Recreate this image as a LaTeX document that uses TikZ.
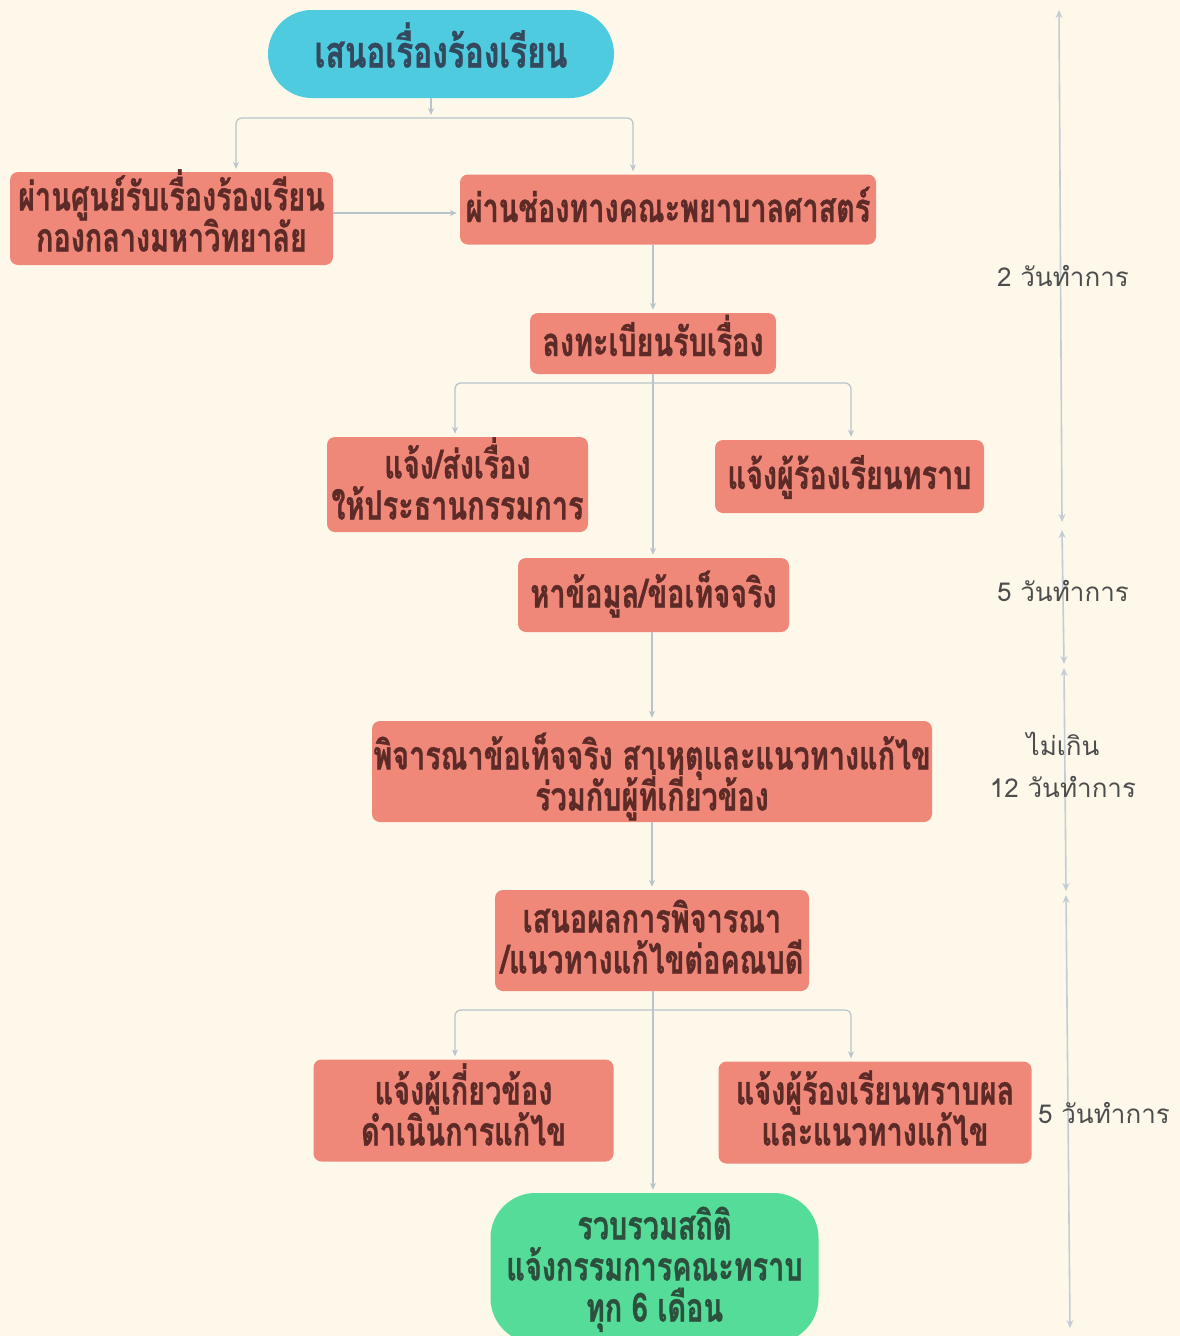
\documentclass[tikz,border=0pt]{standalone}
\usepackage{fontspec}
\usetikzlibrary{arrows.meta}
\newfontfamily\thb[Script=Thai,FakeStretch=0.72,BoldFeatures={FakeBold=0.8}]{Loma}
\newfontfamily\thr[Script=Thai]{Loma}
\newcommand\boxfont{\thb\bfseries\fontsize{40}{41}\selectfont}
\newcommand\startboxfont{\thb\bfseries\fontsize{44}{41}\selectfont}
\newcommand\lastboxfont{\thb\bfseries\fontsize{40}{41}\selectfont}
\newcommand\lblfont{\thr\fontsize{26}{42}\selectfont}
\newcommand\ml[1]{\vbox{\lineskiplimit=-100pt\lineskip=0pt\halign{\hfil##\hfil\cr#1\crcr}}}
\definecolor{bgc}{HTML}{FDF8E9}
\definecolor{salmon}{HTML}{F0887A}
\definecolor{cyanbox}{HTML}{4ECBDF}
\definecolor{greenbox}{HTML}{55DC98}
\definecolor{boxtext}{HTML}{5C2B27}
\definecolor{starttext}{HTML}{34495E}
\definecolor{endtext}{HTML}{2D4F3E}
\definecolor{linec}{HTML}{B9C3CC}
\definecolor{tlc}{HTML}{C4CCD5}
\definecolor{lblc}{HTML}{4D4D4D}
\tikzset{
  box/.style={fill=salmon, rounded corners=8pt, inner sep=0pt, font=\boxfont, text=boxtext},
  onel/.style={text height=25pt, text depth=0pt},
  twol/.style={text height=66pt, text depth=0pt},
  threel/.style={text height=107pt, text depth=0pt},
  conn/.style={draw=linec, line width=1.2pt, -{Stealth[length=7pt,width=6pt]}, rounded corners=6pt, shorten >=3pt},
  plainconn/.style={draw=linec, line width=1.2pt, rounded corners=6pt},
  tl/.style={draw=tlc, line width=1.6pt, {Stealth[length=8pt,width=7pt]}-{Stealth[length=8pt,width=7pt]}},
  lbl/.style={font=\lblfont, text=lblc, align=center, inner sep=0pt}
}
\begin{document}
\begin{tikzpicture}[x=1pt,y=-1pt]
\fill[bgc] (0,0) rectangle (1180,1336);
\useasboundingbox (0,0) rectangle (1180,1336);
\clip (0,0) rectangle (1180,1336);

% nodes
\node[box, fill=cyanbox, text=starttext, font=\startboxfont, text height=27pt, text depth=0pt, rounded corners=44pt, minimum width=346pt, minimum height=88pt] (start) at (441,54) {เสนอเรื่องร้องเรียน};
\node[box, twol, minimum width=323pt, minimum height=93pt] (A) at (171.5,218.5) {\ml{ผ่านศูนย์รับเรื่องร้องเรียน\cr กองกลางมหาวิทยาลัย}};
\node[box, onel, minimum width=416pt, minimum height=70pt] (B) at (668,209.5) {ผ่านช่องทางคณะพยาบาลศาสตร์};
\node[box, onel, minimum width=246pt, minimum height=61pt] (reg) at (653,343.5) {ลงทะเบียนรับเรื่อง};
\node[box, twol, text height=70pt, minimum width=261pt, minimum height=95pt] (send) at (457.5,484.5) {\ml{แจ้ง/ส่งเรื่อง\cr ให้ประธานกรรมการ}};
\node[box, onel, minimum width=269pt, minimum height=73pt] (tell) at (849.5,476.5) {แจ้งผู้ร้องเรียนทราบ};
\node[box, onel, minimum width=271pt, minimum height=74pt] (find) at (653.5,595) {หาข้อมูล/ข้อเท็จจริง};
\node[box, twol, text height=78pt, minimum width=560pt, minimum height=101pt] (cons) at (652,771.5) {\ml{พิจารณาข้อเท็จจริง สาเหตุและแนวทางแก้ไข\cr ร่วมกับผู้ที่เกี่ยวข้อง}};
\node[box, twol, minimum width=314pt, minimum height=101pt] (prop) at (652,940.5) {\ml{เสนอผลการพิจารณา\cr /แนวทางแก้ไขต่อคณบดี}};
\node[box, twol, text height=70pt, minimum width=300pt, minimum height=102pt] (act) at (463.5,1110.5) {\ml{แจ้งผู้เกี่ยวข้อง\cr ดำเนินการแก้ไข}};
\node[box, twol, minimum width=313pt, minimum height=102pt] (res) at (875,1112.5) {\ml{แจ้งผู้ร้องเรียนทราบผล\cr และแนวทางแก้ไข}};
\node[box, threel, fill=greenbox, text=endtext, font=\lastboxfont, rounded corners=45pt, minimum width=328pt, minimum height=150pt] (fin) at (654.5,1268) {\ml{รวบรวมสถิติ\cr แจ้งกรรมการคณะทราบ\cr ทุก 6 เดือน}};

% connectors
\coordinate (j1) at (431,118);
\coordinate (j1a) at (236,118);
\coordinate (j1b) at (633,118);
\draw[conn] (start.south -| j1) -- (j1);
\draw[conn] (j1) -- (j1a) -- (j1a |- A.north);
\draw[conn] (j1) -- (j1b) -- (j1b |- B.north);
\coordinate (aEast) at (333,213);
\draw[conn] (aEast) -- (aEast -| B.west);
\draw[conn] (B.south -| reg.north) -- (reg.north);

\coordinate (j2) at (653,383);
\coordinate (j2a) at (455,383);
\coordinate (j2b) at (851,383);
\draw[plainconn] (reg.south) -- (j2);
\draw[conn] (j2) -- (j2a) -- (j2a |- send.north);
\draw[conn] (j2) -- (j2b) -- (j2b |- tell.north);
\draw[conn] (reg.south) -- (reg.south |- find.north);
\draw[conn] (find.south -| cons.north) -- (cons.north);
\draw[conn] (cons.south) -- (cons.south |- prop.north);

\coordinate (j3) at (653,1010);
\coordinate (j3a) at (455,1010);
\coordinate (j3b) at (851,1010);
\draw[plainconn] (prop.south -| j3) -- (j3);
\draw[conn] (j3) -- (j3a) -- (j3a |- act.north);
\draw[conn] (j3) -- (j3b) -- (j3b |- res.north);
\draw[conn] (prop.south -| j3) -- (j3 |- fin.north);

% timeline
\coordinate (t0) at (1059,10);
\coordinate (t1) at (1062,522);
\coordinate (t2) at (1062,530);
\coordinate (t3) at (1064,664);
\coordinate (t4) at (1064,668);
\coordinate (t5) at (1066,891);
\coordinate (t6) at (1066,895);
\coordinate (t7) at (1070,1328);
\draw[tl] (t0) -- (t1);
\draw[tl] (t2) -- (t3);
\draw[tl] (t4) -- (t5);
\draw[tl] (t6) -- (t7);

\node[lbl] (l1) at (1063,276) {2 วันทำการ};
\node[lbl] (l2) at (1063,591) {5 วันทำการ};
\node[lbl] (l3) at (1063,765) {ไม่เกิน\\12 วันทำการ};
\node[lbl] (l4) at (1104,1113) {5 วันทำการ};
\end{tikzpicture}
\end{document}
